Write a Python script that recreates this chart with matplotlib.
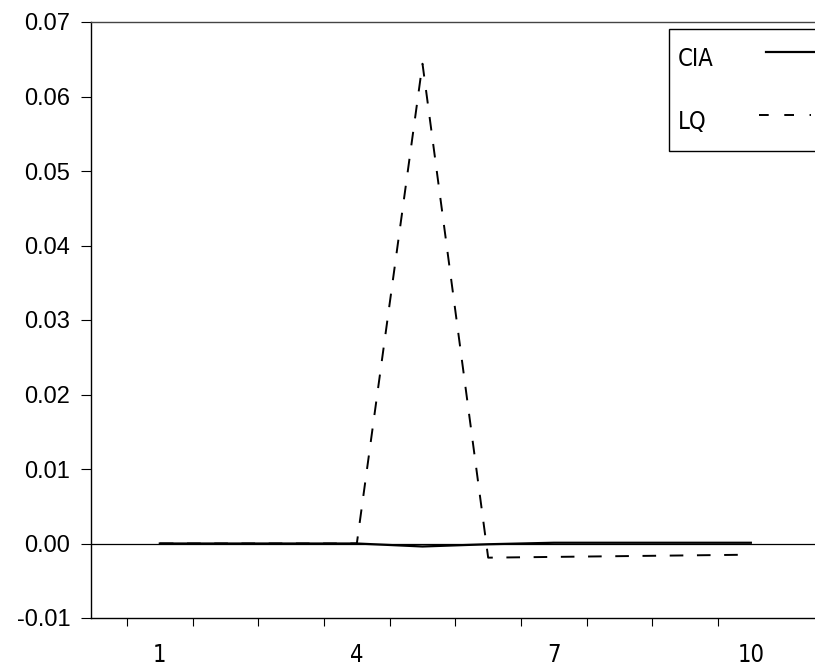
import matplotlib
matplotlib.use('Agg')
import matplotlib.pyplot as plt

# horizons and responses
horizon = [1, 2, 3, 4, 5, 6, 7, 8, 9, 10]
cia = [0.0, 0.0, 0.0, 0.0, -0.0004, -0.0001, 0.0001, 0.0001, 0.0001, 0.0001]
lq = [0.0, 0.0, 0.0, 0.0, 0.0644, -0.0019, -0.0018, -0.0017, -0.0016, -0.0015]

xticks_major = [0.5, 1.5, 2.5, 3.5, 4.5, 5.5, 6.5, 7.5, 8.5, 9.5]
xlabel_pos = [1, 4, 7, 10]
xlabel_txt = ['1', '4', '7', '10']
yticks = [-0.01, 0.0, 0.01, 0.02, 0.03, 0.04, 0.05, 0.06, 0.07]

fig = plt.figure(figsize=(8.15, 6.68), dpi=100)
ax = fig.add_axes([91/815, 50/668, 1 - 91/815, 596/668])

ax.axhline(0, color='black', lw=0.9, zorder=1)
ax.plot(horizon, cia, color='black', lw=1.6, label='CIA', zorder=3)
ax.plot(horizon, lq, color='black', lw=1.4, linestyle=(0, (7, 7)), label='LQ', zorder=3)

ax.set_xlim(-0.048, 10.977)
ax.set_ylim(-0.01, 0.07)

ax.set_xticks(xticks_major)
ax.set_xticklabels([])
ax.set_xticks(xlabel_pos, minor=True)
ax.set_xticklabels(xlabel_txt, minor=True, fontfamily='DejaVu Sans',
                   fontstretch='condensed', fontsize=17)
ax.tick_params(axis='x', which='major', direction='out', length=6, width=0.8)
ax.tick_params(axis='x', which='minor', length=0, pad=18)

ax.set_yticks(yticks)
ax.set_yticklabels(['%.2f' % v for v in yticks], fontfamily='Liberation Sans', fontsize=17)
ax.tick_params(axis='y', direction='out', length=7, width=0.8, pad=8)

ax.spines['right'].set_visible(False)
ax.spines['top'].set_color('#444444')
ax.spines['top'].set_linewidth(1.0)
ax.spines['left'].set_linewidth(1.0)
ax.spines['bottom'].set_linewidth(1.0)

leg = ax.legend(loc='upper left', bbox_to_anchor=(0.798, 0.988), markerfirst=False,
                prop={'family': 'DejaVu Sans', 'stretch': 'condensed', 'size': 17},
                handlelength=2.2, handleheight=2.2, handletextpad=2.2,
                labelspacing=1.0, borderpad=0.4, borderaxespad=0,
                fancybox=False, framealpha=1, edgecolor='black')
leg.get_frame().set_linewidth(1.0)
# keep the label column left aligned (text first, line after)
for col in leg._legend_handle_box.get_children():
    col.align = 'left'
leg.get_lines()[1].set_linestyle((0, (5, 8)))

fig.savefig('out.png', dpi=100)
